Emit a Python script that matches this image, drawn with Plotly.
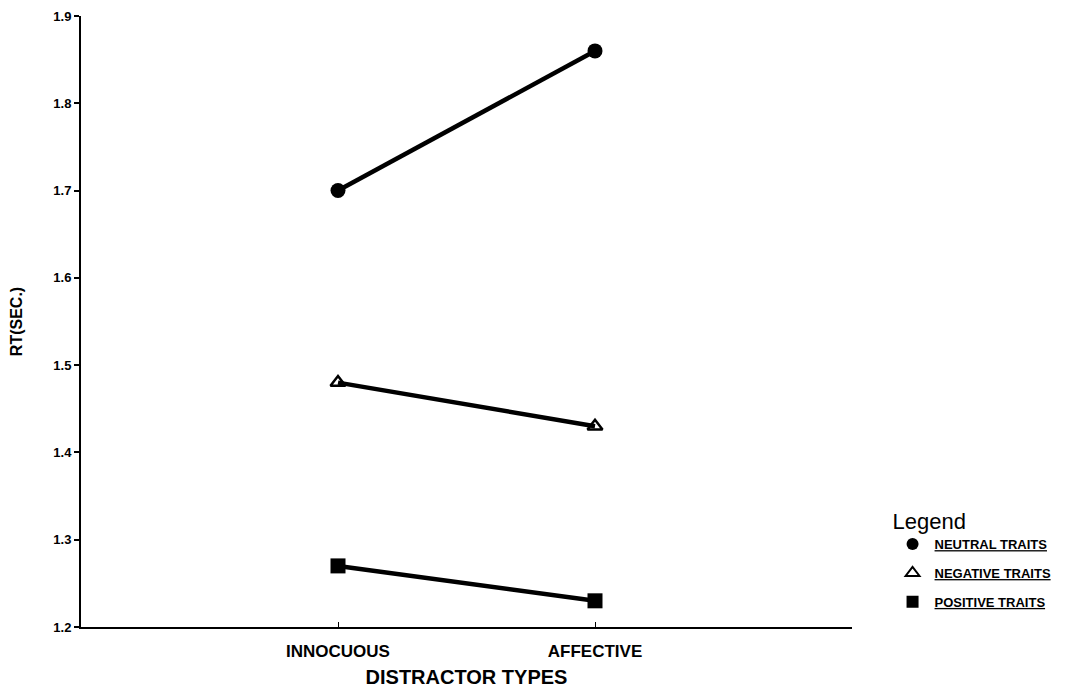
import plotly.graph_objects as go

categories = ["INNOCUOUS", "AFFECTIVE"]
series_names = ["NEUTRAL TRAITS", "NEGATIVE TRAITS", "POSITIVE TRAITS"]
neutral = [1.70, 1.86]
negative = [1.48, 1.43]
positive = [1.27, 1.23]
y_ticks = [1.2, 1.3, 1.4, 1.5, 1.6, 1.7, 1.8, 1.9]

series = [neutral, negative, positive]
symbols = ["circle", "triangle-up-open", "square"]
sizes = [15, 13, 15]

FONT = "Liberation Sans"
fig = go.Figure()
for name, vals, sym, sz in zip(series_names, series, symbols, sizes):
    fig.add_trace(go.Scatter(
        x=categories, y=vals, mode="lines",
        line=dict(color="black", width=4.5),
        showlegend=False, legendgroup=name, hoverinfo="skip"))
    fig.add_trace(go.Scatter(
        x=categories, y=vals, mode="markers",
        marker=dict(symbol=sym, size=sz, color="black",
                    line=dict(color="black", width=2.5 if "open" in sym else 0)),
        name="<b><u>" + name + "</u></b>", legendgroup=name, showlegend=True))

fig.update_layout(
    width=1057, height=680,
    margin=dict(l=73, r=213, t=8, b=61, autoexpand=False),
    paper_bgcolor="white", plot_bgcolor="white",
    font=dict(family=FONT, color="black"),
    legend=dict(
        title=dict(text="Legend", font=dict(size=22, family=FONT)),
        x=1.05, y=0.207, xanchor="left", yanchor="top",
        font=dict(size=13, family=FONT),
        itemsizing="constant", tracegroupgap=9, itemwidth=34,
    ),
    xaxis=dict(
        type="category", range=[-1, 2], automargin=False,
        showline=True, linecolor="black", linewidth=2,
        showgrid=False, zeroline=False,
        ticks="inside", ticklen=5, tickcolor="black", tickwidth=1,
        tickfont=dict(size=17, family=FONT, weight="bold"),
        ticklabelstandoff=8,
        title=dict(text="<b>DISTRACTOR TYPES</b>", font=dict(size=20, family=FONT), standoff=10),
    ),
    yaxis=dict(
        range=[1.2, 1.9], tickvals=y_ticks, ticktext=[f"{v:.1f}" for v in y_ticks],
        automargin=False,
        showline=True, linecolor="black", linewidth=2,
        showgrid=False, zeroline=False,
        ticks="outside", ticklen=5, tickcolor="black", tickwidth=2,
        tickfont=dict(size=13, family=FONT, weight="bold"),
        title=dict(text="<b>RT(SEC.)</b>", font=dict(size=16, family=FONT), standoff=30),
    ),
)

fig.write_html("out.html")
